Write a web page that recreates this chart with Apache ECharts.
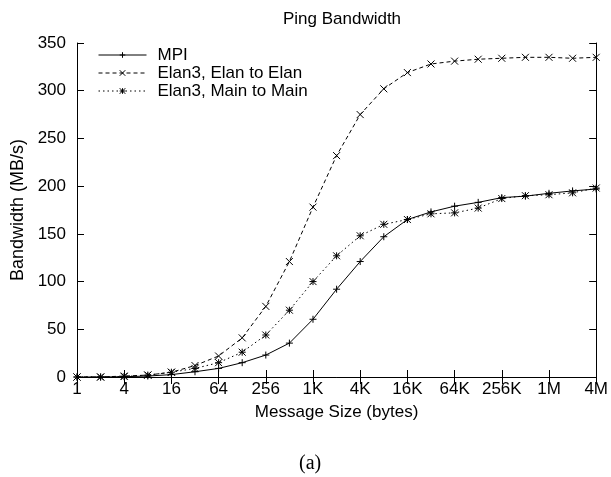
<!DOCTYPE html>
<html>
<head>
<meta charset="utf-8">
<script src="https://cdn.jsdelivr.net/npm/echarts@6/dist/echarts.min.js"></script>
<style>
html,body{margin:0;padding:0;background:#fff;}
#chart{width:611px;height:477px;}
</style>
</head>
<body>
<div id="chart"></div>
<script>
var sizes = [1,2,4,8,16,32,64,128,256,512,1024,2048,4096,8192,16384,32768,65536,131072,262144,524288,1048576,2097152,4194304];
var mpi = [0,0,0.3,1,2.5,5.5,9,15,23,35.5,60.5,92,121,147,165,173,179,183,188,189.5,192.5,195,197];
var elanElan = [0,0,1,2,5,12,22,41,74,121,178,232,275,302,319,328,331,333,334,335,335,334,335];
var mainMain = [0,0,0.5,2,5,9,15,26,44,70,100,127,148,160,165,171,172,177,187,190,191,193,198];
var yTicks = [0,50,100,150,200,250,300,350];
var names = ['MPI','Elan3, Elan to Elan','Elan3, Main to Main'];

var FONT = 'Liberation Sans';
var plus = 'path://M0,5L10,5M5,0L5,10';
var cross = 'path://M0,0L10,10M10,0L0,10';
var star = 'path://M0,5L10,5M5,0L5,10M0,0L10,10M10,0L0,10';

function pairs(vals){ return sizes.map(function(s,i){ return [s, vals[i]]; }); }
function fmt(v){
  v = Math.round(v);
  if (v >= 1048576) return (v/1048576) + 'M';
  if (v >= 1024) return (v/1024) + 'K';
  return String(v);
}
function mk(name, vals, sym, dash){
  return {
    name: name, type: 'line', data: pairs(vals),
    symbol: sym, symbolSize: 7,
    lineStyle: {color: '#000', width: 1, type: dash},
    itemStyle: {color: '#000', borderColor: '#000', borderWidth: 1},
    emphasis: {disabled: true},
    silent: true
  };
}

var chart = echarts.init(document.getElementById('chart'), null, {renderer: 'canvas'});
chart.setOption({
  animation: false,
  backgroundColor: '#fff',
  title: {
    text: 'Ping Bandwidth', left: 337, top: 6, textAlign: 'center',
    textStyle: {fontFamily: FONT, fontSize: 17, fontWeight: 'normal', color: '#000'}
  },
  legend: {
    orient: 'vertical', left: 98, top: 46, padding: 0,
    itemWidth: 48, itemHeight: 7, itemGap: 0,
    data: names,
    lineStyle: {width: 1, color: '#000'},
    itemStyle: {borderWidth: 1, borderColor: '#000', color: '#000'},
    textStyle: {fontFamily: FONT, fontSize: 17, lineHeight: 18, color: '#000', padding: [0,0,0,6]},
    selectedMode: false
  },
  grid: {left: 77, right: 13, top: 43, bottom: 100, containLabel: false},
  xAxis: [{
    type: 'log', logBase: 2, min: 1, max: 4194304, interval: 2,
    name: 'Message Size (bytes)', nameLocation: 'middle', nameGap: 27,
    nameTextStyle: {fontFamily: FONT, fontSize: 17, color: '#000'},
    axisLine: {lineStyle: {color: '#000', width: 1}},
    axisTick: {inside: true, length: 7, lineStyle: {color: '#000'}},
    axisLabel: {fontFamily: FONT, fontSize: 17, color: '#000', margin: 4, formatter: fmt},
    splitLine: {show: false}, minorTick: {show: false}
  },{
    type: 'log', logBase: 2, min: 1, max: 4194304, interval: 2, position: 'top',
    axisLine: {lineStyle: {color: '#000', width: 1}},
    axisTick: {inside: true, length: 7, lineStyle: {color: '#000'}},
    axisLabel: {show: false}, splitLine: {show: false}
  }],
  yAxis: [{
    type: 'value', min: 0, max: 350, interval: 50,
    name: 'Bandwidth (MB/s)', nameLocation: 'middle', nameGap: 50, nameRotate: 90,
    nameTextStyle: {fontFamily: FONT, fontSize: 18, color: '#000'},
    axisLine: {show: true, lineStyle: {color: '#000', width: 1}},
    axisTick: {show: true, inside: true, length: 7, lineStyle: {color: '#000'}},
    axisLabel: {fontFamily: FONT, fontSize: 17, color: '#000', margin: 11,
      customValues: yTicks},
    splitLine: {show: false}
  },{
    type: 'value', min: 0, max: 350, interval: 50, position: 'right',
    axisLine: {show: true, lineStyle: {color: '#000', width: 1}},
    axisTick: {show: true, inside: true, length: 7, lineStyle: {color: '#000'}},
    axisLabel: {show: false}, splitLine: {show: false}
  }],
  series: [
    mk(names[0], mpi, plus, 'solid'),
    mk(names[1], elanElan, cross, [4,3]),
    mk(names[2], mainMain, star, [1.5,3])
  ],
  graphic: [{
    type: 'text', left: 299, top: 454,
    style: {text: '(a)', font: '20px "Liberation Serif"', fill: '#000'}
  }]
});
</script>
</body>
</html>
